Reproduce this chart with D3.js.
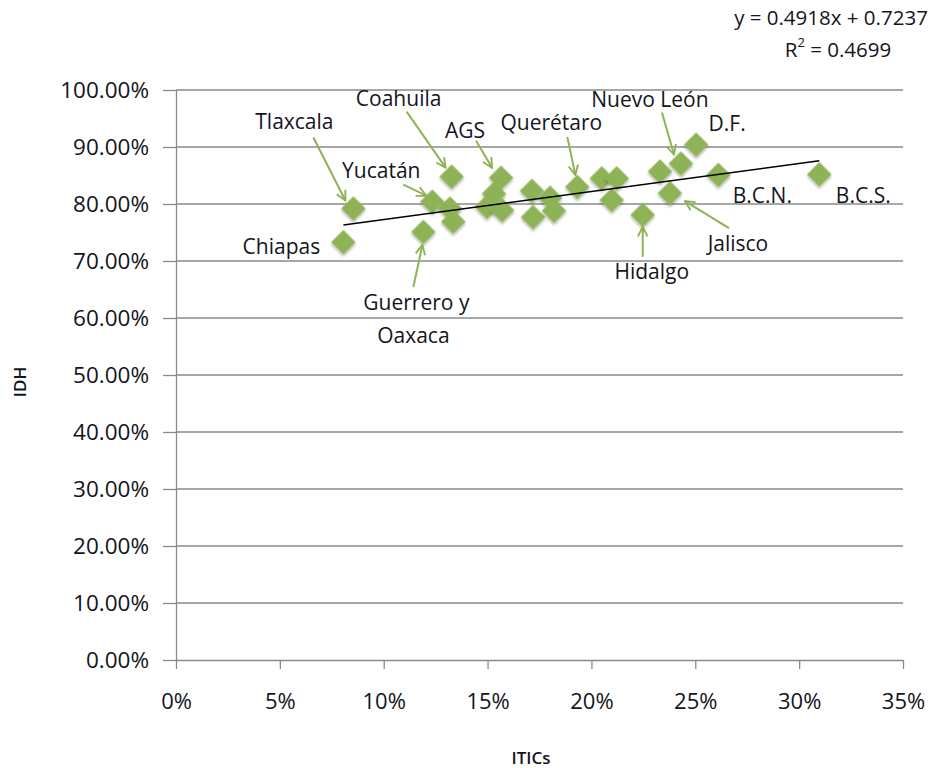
<!DOCTYPE html>
<html>
<head>
<meta charset="utf-8">
<script src="https://cdn.jsdelivr.net/npm/d3@7"></script>
<style>
  body { margin: 0; background: #fff; }
  text { font-family: "Open Sans", sans-serif; fill: #141420; }
</style>
</head>
<body>
<div id="chartContainer"></div>
<script>
// data (ITICs on x, IDH on y)
var states = ["Chiapas", "Tlaxcala", "Guerrero y Oaxaca", "Yucatán", "s5", "s6", "Coahuila",
  "AGS", "s9", "s10", "s11", "s12", "s13", "s14", "s15", "Querétaro", "s17", "s18", "s19",
  "Hidalgo", "s21", "Jalisco", "Nuevo León", "D.F.", "B.C.N.", "B.C.S."];
var itics = [0.0806, 0.0854, 0.1191, 0.1234, 0.1319, 0.1335, 0.1327,
  0.1565, 0.1531, 0.1497, 0.1570, 0.1714, 0.1801, 0.1719, 0.1820, 0.1932, 0.2050, 0.2122, 0.2098,
  0.2247, 0.2330, 0.2378, 0.2431, 0.2504, 0.2611, 0.3097];
var idh = [0.733, 0.792, 0.751, 0.804, 0.792, 0.769, 0.848,
  0.846, 0.818, 0.795, 0.789, 0.823, 0.811, 0.777, 0.788, 0.830, 0.845, 0.845, 0.807,
  0.781, 0.857, 0.819, 0.871, 0.904, 0.851, 0.852];
var xTicks = [0, 0.05, 0.10, 0.15, 0.20, 0.25, 0.30, 0.35];
var yTicks = [0, 0.1, 0.2, 0.3, 0.4, 0.5, 0.6, 0.7, 0.8, 0.9, 1.0];
var slope = 0.4918, intercept = 0.7237, r2 = 0.4699;

// label placement (pixel offsets from the point), arrow from a to b
var notes = [
  {name: "Tlaxcala", lx: -59, ly: -88, a: [-40, -71], b: [-8, -8]},
  {name: "Chiapas", lx: -62, ly: 4},
  {name: "Coahuila", lx: -53, ly: -79, a: [-45, -65], b: [-6, -9]},
  {name: "Yucatán", lx: -51, ly: -32, a: [-29, -17], b: [-6, -6]},
  {name: "AGS", lx: -36, ly: -48, a: [-25, -37], b: [-9, -10]},
  {name: "Querétaro", lx: -26, ly: -65, a: [-10, -50], b: [-2, -12]},
  {name: "Nuevo León", lx: -31, ly: -65, a: [-19, -51], b: [-7, -9]},
  {name: "D.F.", lx: 31, ly: -22},
  {name: "B.C.N.", lx: 44, ly: 20},
  {name: "B.C.S.", lx: 44, ly: 21},
  {name: "Jalisco", lx: 68, ly: 50, a: [59, 35], b: [15, 8]},
  {name: "Hidalgo", lx: 9, ly: 56, a: [0, 42], b: [0, 12]},
  {name: "Guerrero y", lx: -7, ly: 70, a: [-10, 55], b: [-1, 13], pt: "Guerrero y Oaxaca"},
  {name: "Oaxaca", lx: -10, ly: 103, pt: "Guerrero y Oaxaca"}
];

var width = 946, height = 768;
var green = "#8db356", grid = "#8a8a8a";

var svg = d3.select("#chartContainer")
  .append("svg")
    .attr("width", width)
    .attr("height", height);

var defs = svg.append("defs");
var f = defs.append("filter").attr("id", "shadow")
  .attr("x", "-50%").attr("y", "-50%").attr("width", "200%").attr("height", "200%");
f.append("feDropShadow").attr("dx", 1.5).attr("dy", 1.5).attr("stdDeviation", 1.2)
  .attr("flood-color", "#000").attr("flood-opacity", 0.3);
defs.append("marker").attr("id", "arrow")
  .attr("viewBox", "0 0 10 10").attr("refX", 9).attr("refY", 5)
  .attr("markerWidth", 6).attr("markerHeight", 6).attr("orient", "auto")
  .append("path").attr("d", "M1,1 L9,5 L1,9")
  .attr("fill", "none").attr("stroke", green).attr("stroke-width", 1.6);

var x = d3.scaleLinear().domain([0, 0.35]).range([176, 903]);
var y = d3.scaleLinear().domain([0, 1]).range([660, 90]);

// gridlines
svg.append("g").selectAll("line").data(yTicks.slice(1)).enter().append("line")
  .attr("x1", x(0)).attr("x2", x(0.35))
  .attr("y1", function(d) { return y(d); }).attr("y2", function(d) { return y(d); })
  .attr("stroke", grid).attr("stroke-width", 1.3);

// Y axis
var yAxis = svg.append("g")
  .attr("transform", "translate(" + x(0) + ",0)")
  .call(d3.axisLeft(y).tickValues(yTicks).tickFormat(d3.format(".2%")).tickSize(13).tickSizeOuter(0).tickPadding(14));
yAxis.selectAll("line, path").attr("stroke", grid).attr("stroke-width", 1.3);
yAxis.selectAll("text").style("font-size", "22.5px").attr("fill", "#141420");

// X axis
var xAxis = svg.append("g")
  .attr("transform", "translate(0," + y(0) + ")")
  .call(d3.axisBottom(x).tickValues(xTicks).tickFormat(d3.format(".0%")).tickSize(9).tickSizeOuter(0).tickPadding(24));
xAxis.selectAll("line, path").attr("stroke", grid).attr("stroke-width", 1.3);
xAxis.selectAll("text").style("font-size", "22px").attr("fill", "#141420");

// axis titles
svg.append("text").attr("transform", "translate(19,382) rotate(-90)")
  .attr("text-anchor", "middle").attr("dominant-baseline", "central")
  .style("font-size", "17px").style("font-weight", "600").text("IDH");
svg.append("text").attr("x", 531).attr("y", 757)
  .attr("text-anchor", "middle").attr("dominant-baseline", "central")
  .style("font-size", "17px").style("font-weight", "600").text("ITICs");

var pts = states.map(function(s, i) { return {name: s, x: itics[i], y: idh[i]}; });

// diamonds
var sym = d3.symbol().type(d3.symbolSquare).size(300);
svg.append("g").selectAll("path").data(pts).enter().append("path")
  .attr("d", sym)
  .attr("transform", function(d) { return "translate(" + x(d.x) + "," + y(d.y) + ") rotate(45)"; })
  .attr("fill", green)
  .attr("filter", "url(#shadow)");

// trend line over the data range
var xr = d3.extent(itics);
svg.append("line")
  .attr("x1", x(xr[0])).attr("y1", y(slope * xr[0] + intercept))
  .attr("x2", x(xr[1])).attr("y2", y(slope * xr[1] + intercept))
  .attr("stroke", "#000").attr("stroke-width", 1.5);

// labels and arrows
var byName = {};
pts.forEach(function(p) { byName[p.name] = p; });
notes.forEach(function(n) {
  var p = byName[n.pt || n.name];
  var px = x(p.x), py = y(p.y);
  if (n.a) {
    svg.append("line")
      .attr("x1", px + n.a[0]).attr("y1", py + n.a[1])
      .attr("x2", px + n.b[0]).attr("y2", py + n.b[1])
      .attr("stroke", green).attr("stroke-width", 2)
      .attr("marker-end", "url(#arrow)");
  }
  svg.append("text")
    .attr("x", px + n.lx).attr("y", py + n.ly)
    .attr("text-anchor", "middle").attr("dominant-baseline", "central")
    .style("font-size", "21px")
    .text(n.name);
});

// equation
svg.append("text").attr("x", 831).attr("y", 17)
  .attr("text-anchor", "middle").attr("dominant-baseline", "central")
  .style("font-size", "20.5px")
  .text("y = " + slope + "x + " + intercept);
var rt = svg.append("text").attr("x", 838).attr("y", 49)
  .attr("text-anchor", "middle").attr("dominant-baseline", "central")
  .style("font-size", "20.5px");
rt.append("tspan").text("R");
rt.append("tspan").attr("dy", -7).style("font-size", "13px").text("2");
rt.append("tspan").attr("dy", 7).text(" = " + r2);
</script>
</body>
</html>
